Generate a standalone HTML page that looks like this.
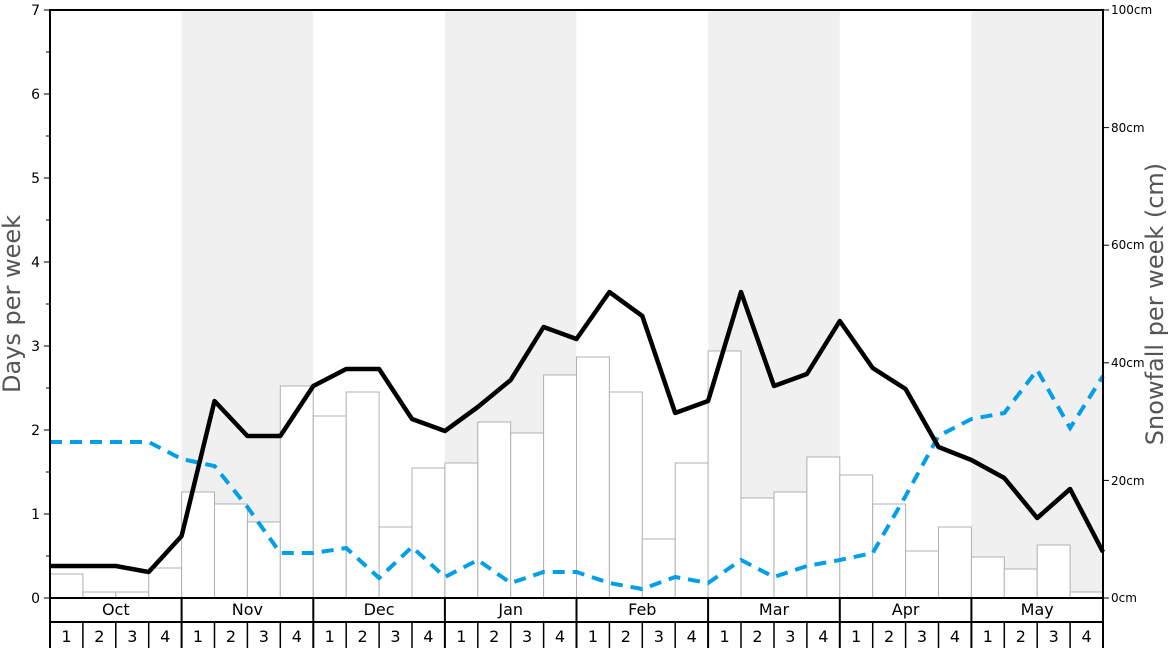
<!DOCTYPE html>
<html><head><meta charset="utf-8"><style>body{margin:0;background:#fff}svg{display:block;font-family:"DejaVu Sans","Liberation Sans",sans-serif}</style></head><body>
<svg width="1168" height="648" viewBox="0 0 1168 648">
<g fill="#f0f0f0">
<rect x="181.6" y="10" width="131.6" height="588"/>
<rect x="444.9" y="10" width="131.6" height="588"/>
<rect x="708.1" y="10" width="131.6" height="588"/>
<rect x="971.4" y="10" width="131.6" height="588"/>
</g>
<g fill="#fff" stroke="#b0b0b0" stroke-width="1">
<rect x="50" y="574" width="32.9" height="24"/>
<rect x="82.9" y="592" width="32.9" height="6"/>
<rect x="115.8" y="592" width="32.9" height="6"/>
<rect x="148.7" y="568" width="32.9" height="30"/>
<rect x="181.6" y="492" width="32.9" height="106"/>
<rect x="214.5" y="504" width="32.9" height="94"/>
<rect x="247.4" y="522" width="32.9" height="76"/>
<rect x="280.3" y="386" width="32.9" height="212"/>
<rect x="313.3" y="416" width="32.9" height="182"/>
<rect x="346.2" y="392" width="32.9" height="206"/>
<rect x="379.1" y="527" width="32.9" height="71"/>
<rect x="412" y="468" width="32.9" height="130"/>
<rect x="444.9" y="463" width="32.9" height="135"/>
<rect x="477.8" y="422" width="32.9" height="176"/>
<rect x="510.7" y="433" width="32.9" height="165"/>
<rect x="543.6" y="375" width="32.9" height="223"/>
<rect x="576.5" y="357" width="32.9" height="241"/>
<rect x="609.4" y="392" width="32.9" height="206"/>
<rect x="642.3" y="539" width="32.9" height="59"/>
<rect x="675.2" y="463" width="32.9" height="135"/>
<rect x="708.1" y="351" width="32.9" height="247"/>
<rect x="741" y="498" width="32.9" height="100"/>
<rect x="774" y="492" width="32.9" height="106"/>
<rect x="806.9" y="457" width="32.9" height="141"/>
<rect x="839.8" y="475" width="32.9" height="123"/>
<rect x="872.7" y="504" width="32.9" height="94"/>
<rect x="905.6" y="551" width="32.9" height="47"/>
<rect x="938.5" y="527" width="32.9" height="71"/>
<rect x="971.4" y="557" width="32.9" height="41"/>
<rect x="1004.3" y="569" width="32.9" height="29"/>
<rect x="1037.2" y="545" width="32.9" height="53"/>
<rect x="1070.1" y="592" width="32.9" height="6"/>
</g>
<polyline fill="none" stroke="#009fe8" stroke-width="4" stroke-dasharray="12,8" points="50,442 82.9,442 115.8,442 148.7,442 181.6,459 214.5,466 247.4,507 280.3,553 313.3,553 346.2,548 379.1,578 412,547 444.9,577 477.8,560 510.7,583 543.6,572 576.5,572 609.4,583 642.3,589 675.2,577 708.1,583 741,560 774,577 806.9,566 839.8,560 872.7,553 905.6,496 938.5,436 971.4,419 1004.3,413 1037.2,370 1070.1,428 1103,376"/>
<polyline fill="none" stroke="#000" stroke-width="4.5" stroke-linejoin="round" points="50,566 82.9,566 115.8,566 148.7,572 181.6,536 214.5,401 247.4,436 280.3,436 313.3,386 346.2,369 379.1,369 412,419 444.9,431 477.8,407 510.7,380 543.6,327 576.5,339 609.4,292 642.3,316 675.2,413 708.1,401 741,292 774,386 806.9,374 839.8,321 872.7,368 905.6,389 938.5,447 971.4,460 1004.3,478 1037.2,518 1070.1,489 1103,552"/>
<rect x="50" y="10" width="1053" height="588" fill="none" stroke="#000" stroke-width="2"/>
<g stroke="#000" stroke-width="1">
<line x1="44" y1="598" x2="50" y2="598"/><line x1="44" y1="514" x2="50" y2="514"/><line x1="44" y1="430" x2="50" y2="430"/><line x1="44" y1="346" x2="50" y2="346"/><line x1="44" y1="262" x2="50" y2="262"/><line x1="44" y1="178" x2="50" y2="178"/><line x1="44" y1="94" x2="50" y2="94"/><line x1="44" y1="10" x2="50" y2="10"/>
<line x1="46" y1="556" x2="50" y2="556"/><line x1="46" y1="472" x2="50" y2="472"/><line x1="46" y1="388" x2="50" y2="388"/><line x1="46" y1="304" x2="50" y2="304"/><line x1="46" y1="220" x2="50" y2="220"/><line x1="46" y1="136" x2="50" y2="136"/><line x1="46" y1="52" x2="50" y2="52"/>
<line x1="1103" y1="598" x2="1109" y2="598"/><line x1="1103" y1="480.4" x2="1109" y2="480.4"/><line x1="1103" y1="362.8" x2="1109" y2="362.8"/><line x1="1103" y1="245.2" x2="1109" y2="245.2"/><line x1="1103" y1="127.6" x2="1109" y2="127.6"/><line x1="1103" y1="10" x2="1109" y2="10"/>
</g>
<g font-size="14" text-anchor="end" fill="#000">
<text x="40" y="603">0</text><text x="40" y="519">1</text><text x="40" y="435">2</text><text x="40" y="351">3</text><text x="40" y="267">4</text><text x="40" y="183">5</text><text x="40" y="99">6</text><text x="40" y="15">7</text>
</g>
<g font-size="12" fill="#000">
<text x="1111" y="602">0cm</text><text x="1111" y="485">20cm</text><text x="1111" y="367">40cm</text><text x="1111" y="249">60cm</text><text x="1111" y="132">80cm</text><text x="1111" y="14">100cm</text>
</g>
<text transform="translate(20,304) rotate(-90)" font-size="24" fill="#555" text-anchor="middle">Days per week</text>
<text transform="translate(1163,304) rotate(-90)" font-size="24" fill="#555" text-anchor="middle">Snowfall per week (cm)</text>
<g stroke="#000" stroke-width="2" fill="none">
<line x1="50" y1="598" x2="50" y2="648"/><line x1="1103" y1="598" x2="1103" y2="648"/>
<line x1="50" y1="622" x2="1103" y2="622"/>
<line x1="181.6" y1="598" x2="181.6" y2="648"/><line x1="313.3" y1="598" x2="313.3" y2="648"/><line x1="444.9" y1="598" x2="444.9" y2="648"/><line x1="576.5" y1="598" x2="576.5" y2="648"/><line x1="708.1" y1="598" x2="708.1" y2="648"/><line x1="839.8" y1="598" x2="839.8" y2="648"/><line x1="971.4" y1="598" x2="971.4" y2="648"/>
</g>
<g stroke="#000" stroke-width="1.5">
<line x1="82.9" y1="622" x2="82.9" y2="648"/><line x1="115.8" y1="622" x2="115.8" y2="648"/><line x1="148.7" y1="622" x2="148.7" y2="648"/>
<line x1="214.5" y1="622" x2="214.5" y2="648"/><line x1="247.4" y1="622" x2="247.4" y2="648"/><line x1="280.3" y1="622" x2="280.3" y2="648"/>
<line x1="346.2" y1="622" x2="346.2" y2="648"/><line x1="379.1" y1="622" x2="379.1" y2="648"/><line x1="412" y1="622" x2="412" y2="648"/>
<line x1="477.8" y1="622" x2="477.8" y2="648"/><line x1="510.7" y1="622" x2="510.7" y2="648"/><line x1="543.6" y1="622" x2="543.6" y2="648"/>
<line x1="609.4" y1="622" x2="609.4" y2="648"/><line x1="642.3" y1="622" x2="642.3" y2="648"/><line x1="675.2" y1="622" x2="675.2" y2="648"/>
<line x1="741" y1="622" x2="741" y2="648"/><line x1="774" y1="622" x2="774" y2="648"/><line x1="806.9" y1="622" x2="806.9" y2="648"/>
<line x1="872.7" y1="622" x2="872.7" y2="648"/><line x1="905.6" y1="622" x2="905.6" y2="648"/><line x1="938.5" y1="622" x2="938.5" y2="648"/>
<line x1="1004.3" y1="622" x2="1004.3" y2="648"/><line x1="1037.2" y1="622" x2="1037.2" y2="648"/><line x1="1070.1" y1="622" x2="1070.1" y2="648"/>
</g>
<g font-size="16" text-anchor="middle" fill="#000">
<text x="115.8" y="615">Oct</text><text x="247.4" y="615">Nov</text><text x="379.1" y="615">Dec</text><text x="510.7" y="615">Jan</text><text x="642.3" y="615">Feb</text><text x="774" y="615">Mar</text><text x="905.6" y="615">Apr</text><text x="1037.2" y="615">May</text>
</g>
<g font-size="16" text-anchor="middle" fill="#000">
<text x="66.5" y="642">1</text><text x="99.4" y="642">2</text><text x="132.3" y="642">3</text><text x="165.2" y="642">4</text>
<text x="198" y="642">1</text><text x="231" y="642">2</text><text x="263.9" y="642">3</text><text x="296.8" y="642">4</text>
<text x="329.7" y="642">1</text><text x="362.6" y="642">2</text><text x="395.5" y="642">3</text><text x="428.4" y="642">4</text>
<text x="461.3" y="642">1</text><text x="494.2" y="642">2</text><text x="527.1" y="642">3</text><text x="560" y="642">4</text>
<text x="593" y="642">1</text><text x="625.9" y="642">2</text><text x="658.8" y="642">3</text><text x="691.7" y="642">4</text>
<text x="724.6" y="642">1</text><text x="757.5" y="642">2</text><text x="790.4" y="642">3</text><text x="823.3" y="642">4</text>
<text x="856.2" y="642">1</text><text x="889.1" y="642">2</text><text x="922" y="642">3</text><text x="955" y="642">4</text>
<text x="987.9" y="642">1</text><text x="1020.8" y="642">2</text><text x="1053.7" y="642">3</text><text x="1086.6" y="642">4</text>
</g>
</svg>
</body></html>
